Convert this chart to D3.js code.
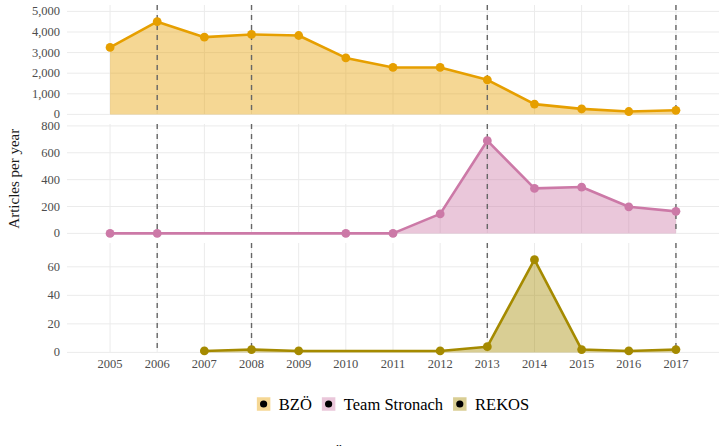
<!DOCTYPE html>
<html lang="en">
<head>
  <meta charset="UTF-8" />
  <title>Articles per year</title>
  <script src="https://d3js.org/d3.v7.min.js"></script>
  <style>
    html, body { margin: 0; padding: 0; background: #FFFFFF; overflow: hidden; }
    svg { display: block; }
    svg text { font-family: 'Liberation Serif', 'Times New Roman', serif; }
    .grid line { stroke: #EBEBEB; stroke-width: 1; }
    .tick-label { fill: #4D4D4D; font-size: 12.5px; }
    .legend-label { fill: #000000; font-size: 16.5px; }
    .axis-title { fill: #1A1A1A; font-size: 15px; }
  </style>
</head>
<body>
  <div id="chart"></div>
  <script>
    // data
    const parties = ["BZÖ", "Team Stronach", "REKOS"];
    const bzoYears = [2005, 2006, 2007, 2008, 2009, 2010, 2011, 2012, 2013, 2014, 2015, 2016, 2017];
    const bzoValues = [3250, 4500, 3750, 3880, 3830, 2740, 2280, 2280, 1680, 500, 270, 140, 200];
    const tsYears = [2005, 2006, 2010, 2011, 2012, 2013, 2014, 2015, 2016, 2017];
    const tsValues = [0, 0, 0, 0, 145, 690, 335, 345, 198, 164];
    const rekosYears = [2007, 2008, 2009, 2012, 2013, 2014, 2015, 2016, 2017];
    const rekosValues = [1, 2, 1, 1, 4, 65, 2, 1, 2];
    const xTicks = [2005, 2006, 2007, 2008, 2009, 2010, 2011, 2012, 2013, 2014, 2015, 2016, 2017];
    const bzoTicks = [0, 1000, 2000, 3000, 4000, 5000];
    const tsTicks = [0, 200, 400, 600, 800];
    const rekosTicks = [0, 20, 40, 60];
    const electionYears = [2006, 2008, 2013, 2017];
    const colors = ["#E69F00", "#CC79A7", "#A58A00"];

    const W = 725, H = 446;
    const panelLeft = 67, panelRight = 719;
    const panelTops = [5, 124, 243];
    const panelH = 109.4;

    const series = [
      { name: parties[0], years: bzoYears, values: bzoValues, ticks: bzoTicks, color: colors[0] },
      { name: parties[1], years: tsYears, values: tsValues, ticks: tsTicks, color: colors[1] },
      { name: parties[2], years: rekosYears, values: rekosValues, ticks: rekosTicks, color: colors[2] }
    ];

    const x = d3.scaleLinear().domain([2004.087, 2017.913]).range([panelLeft, panelRight]);
    const fmt = d3.format(",");

    const svg = d3.select("#chart").append("svg")
      .attr("width", W).attr("height", H);

    series.forEach((s, i) => {
      const top = panelTops[i];
      const y = d3.scaleLinear()
        .domain([0, d3.max(s.values) * 1.18])
        .range([top + panelH, top]);
      const pts = s.years.map((yr, k) => ({ year: yr, value: s.values[k] }));
      const g = svg.append("g");

      const grid = g.append("g").attr("class", "grid");
      grid.selectAll(".h").data(s.ticks).join("line")
        .attr("x1", panelLeft).attr("x2", panelRight)
        .attr("y1", d => y(d)).attr("y2", d => y(d));
      grid.selectAll(".v").data(xTicks).join("line")
        .attr("x1", d => x(d)).attr("x2", d => x(d))
        .attr("y1", top).attr("y2", top + panelH);

      g.selectAll(".tick-label").data(s.ticks).join("text")
        .attr("class", "tick-label")
        .attr("x", 60)
        .attr("y", d => y(d))
        .attr("dy", "0.32em")
        .attr("text-anchor", "end")
        .text(d => fmt(d));

      g.append("path")
        .datum(pts)
        .attr("fill", s.color)
        .attr("fill-opacity", 0.42)
        .attr("d", d3.area().x(d => x(d.year)).y0(y(0)).y1(d => y(d.value)));

      g.selectAll(".vline").data(electionYears).join("line")
        .attr("x1", d => x(d)).attr("x2", d => x(d))
        .attr("y1", top).attr("y2", top + panelH)
        .attr("stroke", "#666666")
        .attr("stroke-width", 1.4)
        .attr("stroke-dasharray", "5,5");

      g.append("path")
        .datum(pts)
        .attr("fill", "none")
        .attr("stroke", s.color)
        .attr("stroke-width", 2.6)
        .attr("stroke-linejoin", "round")
        .attr("d", d3.line().x(d => x(d.year)).y(d => y(d.value)));

      g.selectAll(".pt").data(pts).join("circle")
        .attr("cx", d => x(d.year))
        .attr("cy", d => y(d.value))
        .attr("r", 4.4)
        .attr("fill", s.color);
    });

    // x axis labels under the last panel
    svg.selectAll(".x-label").data(xTicks).join("text")
      .attr("class", "tick-label")
      .attr("x", d => x(d))
      .attr("y", 368)
      .attr("text-anchor", "middle")
      .text(d => d);

    svg.append("text")
      .attr("class", "axis-title")
      .attr("transform", `translate(19, ${(panelTops[0] + panelTops[2] + panelH) / 2}) rotate(-90)`)
      .attr("text-anchor", "middle")
      .text("Articles per year");

    // legend, centred under the panels
    const legend = svg.append("g");
    const keySize = 13.5, keyGap = 8.5, itemGap = 10;
    let lx = 0;
    series.forEach(s => {
      const item = legend.append("g").attr("transform", `translate(${lx},0)`);
      item.append("rect")
        .attr("x", 0).attr("y", -keySize / 2)
        .attr("width", keySize).attr("height", keySize)
        .attr("fill", s.color).attr("fill-opacity", 0.42);
      item.append("circle")
        .attr("cx", keySize / 2).attr("cy", 0).attr("r", 3.6)
        .attr("fill", "#000000");
      const t = item.append("text")
        .attr("class", "legend-label")
        .attr("x", keySize + keyGap)
        .attr("dy", "0.35em")
        .text(s.name);
      lx += keySize + keyGap + t.node().getComputedTextLength() + itemGap;
    });
    lx -= itemGap;
    legend.attr("transform", `translate(${(panelLeft + panelRight) / 2 - lx / 2}, 404)`);

    // caption cut off by the bottom edge of the picture
    svg.append("text")
      .attr("class", "legend-label")
      .attr("x", 339)
      .attr("y", 459)
      .attr("text-anchor", "middle")
      .text("Ö");
  </script>
</body>
</html>
